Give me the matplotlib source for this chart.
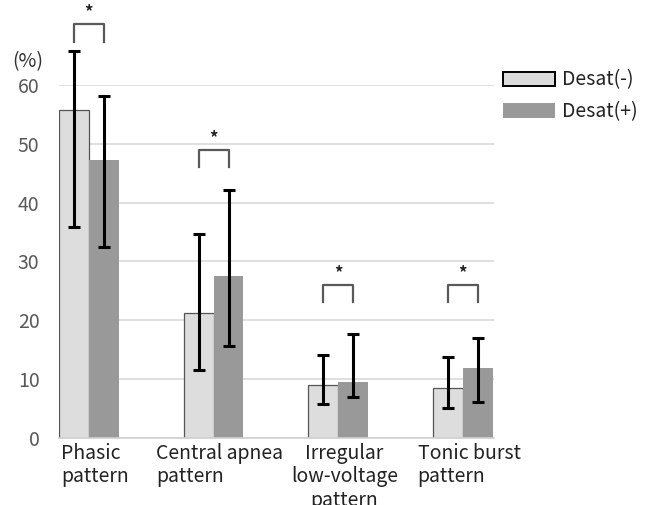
import numpy as np
import matplotlib
matplotlib.use('Agg')
import matplotlib.pyplot as plt
from matplotlib.patches import Patch

plt.rcParams['font.family'] = ['Noto Sans CJK JP', 'DejaVu Sans']

# data
categories = ['Phasic\npattern', 'Central apnea\npattern',
              'Irregular\nlow-voltage\npattern', 'Tonic burst\npattern']
label_align = ['left', 'left', 'center', 'left']
desat_neg = [55.7, 21.2, 9.0, 8.4]
desat_neg_low = [35.9, 11.6, 5.7, 5.1]
desat_neg_high = [65.8, 34.6, 14.1, 13.7]
desat_pos = [47.3, 27.5, 9.4, 11.8]
desat_pos_low = [32.5, 15.6, 7.0, 6.1]
desat_pos_high = [58.2, 42.2, 17.7, 16.9]
bracket_top = [70.3, 49.0, 26.0, 26.0]

x = np.arange(len(categories))
w = 0.24

fig = plt.figure(figsize=(6.48, 5.05), dpi=100)
ax = fig.add_axes([59/648, 1 - 437.7/505, 435/648, (437.7 - 85)/505])

neg = np.array(desat_neg)
pos = np.array(desat_pos)
err_neg = [neg - np.array(desat_neg_low), np.array(desat_neg_high) - neg]
err_pos = [pos - np.array(desat_pos_low), np.array(desat_pos_high) - pos]

ax.bar(x - w/2, neg, w, color='#dddddd', edgecolor='#555555', linewidth=0.9, zorder=2)
ax.bar(x + w/2, pos, w, color='#999999', edgecolor='none', zorder=2)
ax.errorbar(x - w/2, neg, yerr=err_neg, fmt='none', ecolor='black',
            elinewidth=2.2, capsize=4, capthick=2.2, zorder=3, clip_on=False)
ax.errorbar(x + w/2, pos, yerr=err_pos, fmt='none', ecolor='black',
            elinewidth=2.2, capsize=4, capthick=2.2, zorder=3, clip_on=False)

# significance brackets
for xi, top in zip(x, bracket_top):
    ax.plot([xi - w/2, xi - w/2, xi + w/2, xi + w/2],
            [top - 2.9, top, top, top - 2.9],
            color='#595959', lw=1.6, clip_on=False, zorder=4)
    ax.text(xi, top + 0.5, '*', ha='center', va='bottom', fontsize=12,
            fontweight='bold', color='#222222')

ax.set_xlim(-0.24, 3.25)
ax.set_ylim(0, 60)
ax.set_yticks(range(0, 61, 10))
ax.yaxis.grid(True, color='#d9d9d9', lw=1.2, zorder=0)
ax.set_axisbelow(True)
for s in ['top', 'right', 'left']:
    ax.spines[s].set_visible(False)
ax.spines['bottom'].set_color('#d0d0d0')
ax.spines['bottom'].set_linewidth(1.2)
ax.tick_params(axis='y', length=0, labelsize=14, labelcolor='#595959', pad=14)
ax.tick_params(axis='x', length=0)
ax.set_xticks([])

for xi, lab, al in zip(x, categories, label_align):
    ax.text(xi + 0.05, -0.9, lab, ha='center', va='top', multialignment=al,
            fontsize=14, color='#222222', linespacing=1.15)

fig.text(28/648, 1 - 62/505, '(%)', ha='center', va='center',
         fontsize=14, color='#333333')

handles = [Patch(facecolor='#dddddd', edgecolor='black', linewidth=1.4),
           Patch(facecolor='#999999', edgecolor='none')]
fig.legend(handles, ['Desat(-)', 'Desat(+)'], loc='upper left',
           bbox_to_anchor=(485/648, 1 - 52/505), frameon=False, fontsize=14,
           handlelength=2.7, handleheight=0.75, labelspacing=0.55,
           handletextpad=0.35, labelcolor='#222222')

fig.savefig('out.png', dpi=100)
